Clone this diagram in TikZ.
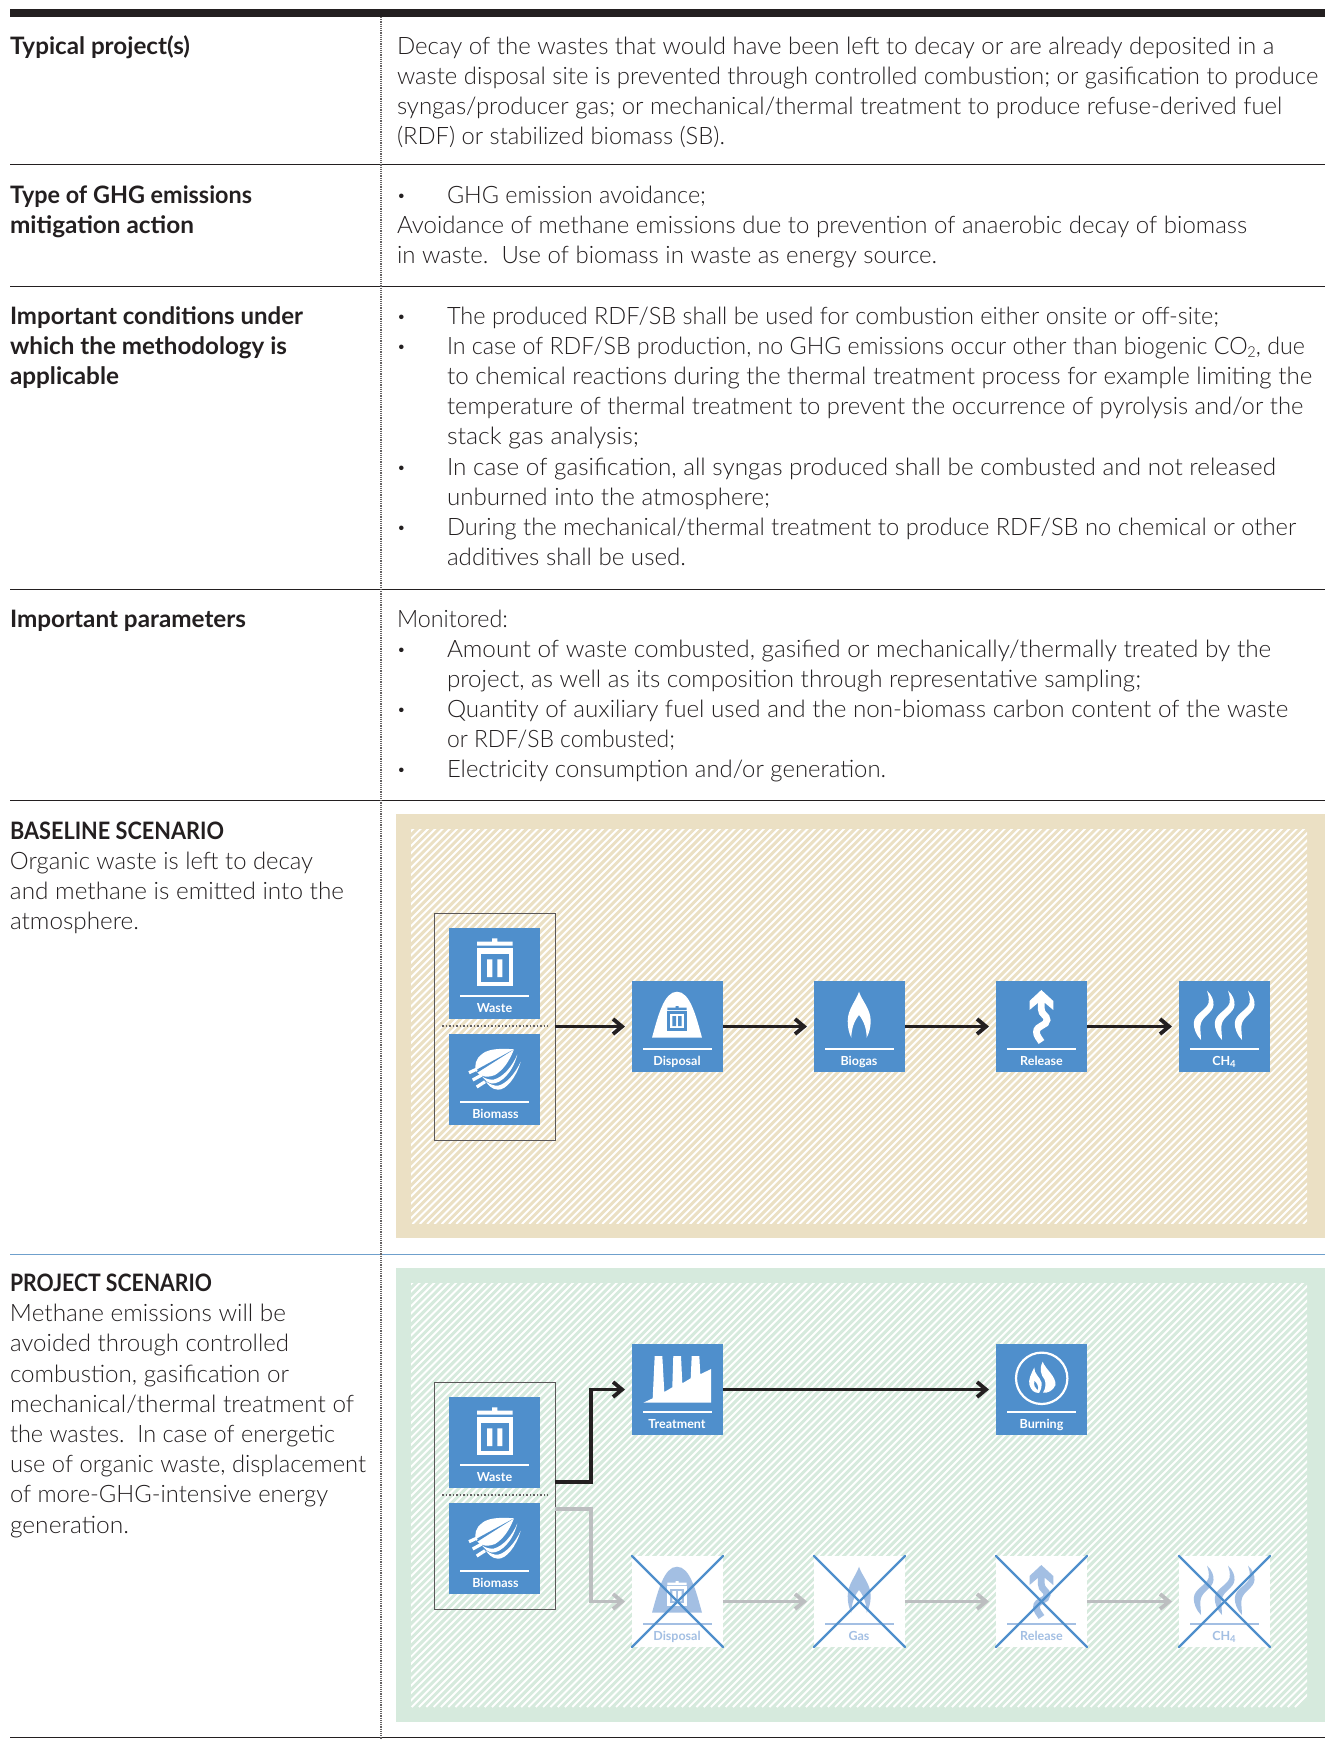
\documentclass[tikz,border=0pt]{standalone}
\usepackage{fontspec}
\usetikzlibrary{arrows.meta}
\setmainfont{Lato Light}[BoldFont={Lato Bold}]
\newfontfamily\lblfont{Lato Bold}
\definecolor{ink}{HTML}{231F20}
\definecolor{tanbg}{HTML}{EBE0C4}
\definecolor{greenbg}{HTML}{D6EADD}
\definecolor{iconblue}{HTML}{4F8FCC}
\definecolor{fadeblue}{HTML}{A3BFE3}
\definecolor{arrowgray}{HTML}{BCBEC0}
\definecolor{rowblue}{HTML}{6FA0CC}
\newcounter{txtn}
\newsavebox{\fitbox}
% set text #3 squeezed horizontally to the width #1-#2 (end x minus start x)
\newcommand{\fitto}[3]{\sbox{\fitbox}{#3}\pgfmathsetmacro{\fitr}{(#1-#2)/\wd\fitbox}\scalebox{\fitr}[1]{\usebox{\fitbox}}}
\newcommand{\tl}[4]{\stepcounter{txtn}\node[txt,name=t\thetxtn] at (#1,#2+1.5) {\fitto{#3}{#1}{#4}};}
\newcommand{\bl}[4]{\stepcounter{txtn}\node[txt,font=\fontsize{24}{24}\selectfont\bfseries,name=t\thetxtn] at (#1,#2+1.5) {\fitto{#3}{#1}{#4}};}
\newcommand{\dotl}[2]{\stepcounter{txtn}\node[txt,font=\fontsize{24}{24}\selectfont\bfseries,name=t\thetxtn] at (#1,#2+1.5) {·};}
% icons, drawn in a 91x91 box; colours fg and bg
\newcommand{\trashicon}{%
  \fill[fg] (28,13.7) rectangle (63.7,17.7) (43,10.3) rectangle (48.3,13.7);
  \fill[fg] (28,20.3) rectangle (63.7,58);
  \fill[bg] (32,26.3) rectangle (59.7,54);
  \fill[fg] (38,31.3) rectangle (43.3,49) (48.3,31.3) rectangle (53.3,49);}
\newcommand{\trashsmall}{%
  \fill[bg] (35.3,26.6) rectangle (54.7,29) (43.5,25) rectangle (46.5,26.6);
  \fill[bg] (35.3,30) rectangle (54.7,49.7);
  \fill[fg] (37.8,32.6) rectangle (52.2,47.2);
  \fill[bg] (40.3,35) rectangle (44,45) (46,35) rectangle (49.7,45);}
\newcommand{\moundicon}{%
  \fill[fg] (20,56.7) .. controls (26,35) and (32,10.7) .. (45,10.7) .. controls (58,10.7) and (64,35) .. (70,56.7) -- cycle;
  \trashsmall}
\newcommand{\flameicon}{%
  \fill[fg] (45,10.7) .. controls (48,20) and (56.7,28) .. (56.7,40) .. controls (56.7,47) and (55,52) .. (52.7,56.7) .. controls (52.5,48) and (50,40) .. (45,34) .. controls (40,40) and (37.5,48) .. (37.3,56.7) .. controls (35,52) and (33.7,47) .. (33.7,40) .. controls (33.7,28) and (42,20) .. (45,10.7) -- cycle;}
\newcommand{\releaseicon}{%
  \fill[fg] (45.3,9) -- (57.3,20) -- (57.3,29) -- (49,22) -- (41.8,22) -- (33.5,29) -- (33.5,20) -- cycle;
  \draw[fg,line width=6.8pt] (45.3,18) -- (45.3,28) .. controls (45.3,34) and (51,34) .. (51,39) .. controls (51,45) and (40.5,44) .. (40.5,51) .. controls (40.5,55) and (43,57) .. (45.5,61);}
\newcommand{\wavepart}{%
  \fill[fg] (28,9.7) .. controls (33,14) and (35,20) .. (34.5,24) .. controls (34,32) and (23,35) .. (21.5,44) .. controls (21,50) and (22,54) .. (22,59) .. controls (17,54) and (14.5,47) .. (14.8,42) .. controls (15,33) and (27.5,29) .. (29.5,22) .. controls (30.5,17) and (29,13) .. (28,9.7) -- cycle;}
\newcommand{\wavesicon}{\wavepart
  \begin{scope}[shift={(21,0)}]\wavepart\end{scope}
  \begin{scope}[shift={(41,0)}]\wavepart\end{scope}}
\newcommand{\leaficon}{%
  \fill[fg] (68.3,20.5) .. controls (64,38) and (52,50) .. (43,49.5) .. controls (39,49) and (36,46) .. (33,42.5) .. controls (37,45) and (41,46) .. (45,45.5) .. controls (54,43) and (63,33) .. (68.3,20.5) -- cycle;
  \fill[fg] (71.7,27.7) .. controls (67,44) and (57,56) .. (49,55.7) .. controls (43,55.5) and (39,51) .. (36.5,47) .. controls (40,50) and (45,52) .. (49,51.7) .. controls (57,50) and (66,40) .. (71.7,27.7) -- cycle;
  \fill[fg] (65,15.3) .. controls (55,14.5) and (40,14) .. (33,20) .. controls (27,24) and (25,32) .. (27,37) .. controls (31,43) and (38,44) .. (46,41) .. controls (54,36) and (60,28) .. (65,15.3) -- cycle;
  \fill[bg] (65,15.3) -- (27,36) -- (28.5,38.5) -- cycle;
  \draw[fg,line width=3.2pt] (20,38.7) -- (28,35);
  \draw[fg,line width=3.2pt] (23.7,46) -- (32.7,41);
  \draw[fg,line width=3.2pt] (27.7,53) -- (36,47.7);}
\newcommand{\factoryicon}{%
  \fill[fg] (11.3,58.7) -- (20.7,54.3) -- (22.7,12) -- (30.3,12) -- (32.3,48) -- (40.3,43.3) -- (41.3,12) -- (49,12) -- (50.3,39.3) -- (58.7,34.3) -- (59.7,12) -- (67.3,12) -- (68.3,30.3) -- (79,25) -- (79,58.7) -- cycle;}
\newcommand{\burnicon}{%
  \draw[fg,line width=2.2pt] (45.7,34.3) circle (25.7);
  \fill[fg] (46.7,17.7) .. controls (50,26) and (60,32) .. (59.5,41) .. controls (57,46.5) and (52,49.5) .. (47,48.5) .. controls (50,44) and (50,39) .. (48.5,35.5) .. controls (45,31) and (43,25) .. (46.7,17.7) -- cycle;
  \fill[fg] (38.3,23.5) .. controls (38,30) and (44,33) .. (45.5,38.5) .. controls (46,42) and (45,46) .. (43,49) .. controls (38,49) and (35,46) .. (33.5,41) .. controls (32,36) and (35,30) .. (38.3,23.5) -- cycle;
  \fill[bg] (38.5,37) .. controls (37.5,41) and (39,44) .. (41.5,46) .. controls (43,43) and (41,39) .. (38.5,37) -- cycle;}
% \iconbox{name}{left}{top}{icon}{label}{label x}
\newcommand{\iconbox}[6]{%
  \node[boxn,fill=bg] (#1) at (#2+45.5,#3+45.5) {};
  \begin{scope}[shift={(#2,#3)}]
    #4
    \fill[fg] (11,67) rectangle (80,69);
    \node[lbl,text=fg,name=#1lbl] at (#6,84.3) {#5};
  \end{scope}}
\newcommand{\solidcolours}{\colorlet{fg}{white}\colorlet{bg}{iconblue}}
\newcommand{\fadecolours}{\colorlet{fg}{fadeblue}\colorlet{bg}{white}}
\tikzset{
  txt/.style={anchor=base west,inner sep=0,outer sep=0,text=ink,font=\fontsize{24}{24}\selectfont},
  lbl/.style={anchor=base,inner sep=0,font=\lblfont\fontsize{12.5}{12.5}\selectfont},
  boxn/.style={draw=none,minimum size=91pt,inner sep=0,outer sep=0},
  grp/.style={draw=ink!75,line width=0.9pt,minimum width=121pt,minimum height=227pt,inner sep=0,outer sep=0},
  rowline/.style={ink,line width=1pt},
  hatchline/.style={white,line width=1.9pt},
  sepdots/.style={ink!70,line width=1.1pt,dash pattern=on 1.6pt off 1.9pt},
  flow/.style={ink,line width=3.6pt,-{Straight Barb[length=9pt,width=15pt,line width=3.8pt]}},
  flowgray/.style={arrowgray,line width=3.6pt,-{Straight Barb[length=9pt,width=15pt,line width=3.8pt]}},
  crossl/.style={iconblue,line width=2.4pt,line cap=round}
}
\begin{document}
\begin{tikzpicture}[x=1pt,y=-1pt]
\useasboundingbox (0,0) rectangle (1325,1739);
\fill[white] (0,0) rectangle (1325,1739);
% table rules
\fill[ink] (10,9) rectangle (1325,17);
\draw[rowline] (10,165) -- (1325,165);
\draw[rowline] (10,286.3) -- (1325,286.3);
\draw[rowline] (10,589) -- (1325,589);
\draw[rowline] (10,800.5) -- (1325,800.5);
\draw[rowblue,line width=1pt] (10,1254.5) -- (1325,1254.5);
\draw[rowline] (10,1737) -- (1325,1737);
\draw[ink!70,line width=1.2pt,densely dotted] (381,17) -- (381,1739);
% panels
\fill[tanbg] (396,814) rectangle (1325,1238);
\begin{scope}
  \clip (411,829) rectangle (1307,1223.5);
  \foreach \i in {0,...,180} {\draw[hatchline] ({11+\i*7.3},1224) -- ++(400,-400);}
\end{scope}
\fill[greenbg] (396,1268) rectangle (1325,1722);
\begin{scope}
  \clip (411,1283) rectangle (1307,1707);
  \foreach \i in {0,...,180} {\draw[hatchline] ({-19+\i*7.3},1707) -- ++(430,-430);}
\end{scope}
% left column
\bl{10}{53}{190}{Typical project(s)}
\bl{10}{202}{252}{Type of GHG emissions}
\bl{10}{232}{194}{mitigation action}
\bl{10}{323}{303}{Important conditions under}
\bl{10}{353}{287}{which the methodology is}
\bl{10}{383}{119}{applicable}
\bl{10}{626}{246}{Important parameters}
\bl{10}{838}{224}{BASELINE SCENARIO}
\tl{10}{868}{313}{Organic waste is left to decay}
\tl{10}{898}{344}{and methane is emitted into the}
\tl{10}{928}{139}{atmosphere.}
\bl{10}{1290}{212}{PROJECT SCENARIO}
\tl{10}{1320.2}{286}{Methane emissions will be}
\tl{10}{1350.4}{289}{avoided through controlled}
\tl{10}{1380.6}{289}{combustion, gasification or}
\tl{10}{1410.8}{354}{mechanical/thermal treatment of}
\tl{10}{1441}{335}{the wastes.\ \ In case of energetic}
\tl{10}{1471.2}{366}{use of organic waste, displacement}
\tl{10}{1501.4}{328}{of more-GHG-intensive energy}
\tl{10}{1531.6}{129}{generation.}
% right column
\tl{397}{53}{1274}{Decay of the wastes that would have been left to decay or are already deposited in a}
\tl{397}{83}{1318}{waste disposal site is prevented through controlled combustion; or gasification to produce}
\tl{397}{113}{1282}{syngas/producer gas; or mechanical/thermal treatment to produce refuse-derived fuel}
\tl{397}{143}{725}{(RDF) or stabilized biomass (SB).}
\dotl{398}{202}
\tl{447}{202}{706}{GHG emission avoidance;}
\tl{397}{232}{1247}{Avoidance of methane emissions due to prevention of anaerobic decay of biomass}
\tl{397}{262}{937}{in waste.\ \ Use of biomass in waste as energy source.}
\dotl{398}{323}
\tl{447}{323}{1219}{The produced RDF/SB shall be used for combustion either onsite or off-site;}
\dotl{398}{353.1}
\tl{447}{353.1}{1305}{In case of RDF/SB production, no GHG emissions occur other than biogenic CO\raisebox{-3pt}{\fontsize{15}{15}\selectfont 2}, due}
\tl{447}{383.2}{1312}{to chemical reactions during the thermal treatment process for example limiting the}
\tl{447}{413.3}{1303}{temperature of thermal treatment to prevent the occurrence of pyrolysis and/or the}
\tl{447}{443.4}{639}{stack gas analysis;}
\dotl{398}{473.5}
\tl{447}{473.5}{1276}{In case of gasification, all syngas produced shall be combusted and not released}
\tl{447}{503.6}{770}{unburned into the atmosphere;}
\dotl{398}{533.7}
\tl{447}{533.7}{1296}{During the mechanical/thermal treatment to produce RDF/SB no chemical or other}
\tl{447}{563.8}{686}{additives shall be used.}
\tl{397}{626}{508}{Monitored:}
\dotl{398}{656}
\tl{447}{656}{1271}{Amount of waste combusted, gasified or mechanically/thermally treated by the}
\tl{447}{686}{1141}{project, as well as its composition through representative sampling;}
\dotl{398}{716}
\tl{447}{716}{1288}{Quantity of auxiliary fuel used and the non-biomass carbon content of the waste}
\tl{447}{746}{675}{or RDF/SB combusted;}
\dotl{398}{776}
\tl{447}{776}{886}{Electricity consumption and/or generation.}
% baseline diagram
\solidcolours
\node[grp] (bgroup) at (494.5,1026.5) {};
\draw[sepdots] (442,1026) -- (548,1026);
\iconbox{bwaste}{449}{928}{\trashicon}{Waste}{45.5}
\iconbox{bbiomass}{449}{1034}{\leaficon}{Biomass}{46.5}
\iconbox{bdisposal}{632}{981}{\moundicon}{Disposal}{45}
\iconbox{bbiogas}{814}{981}{\flameicon}{Biogas}{45}
\iconbox{brelease}{996}{981}{\releaseicon}{Release}{45.5}
\iconbox{bch}{1179}{981}{\wavesicon}{CH\raisebox{-2pt}{\fontsize{9.5}{9.5}\selectfont 4}}{45}
\draw[flow,shorten >=7pt] (bgroup.east) -- (bdisposal.west);
\draw[flow,shorten >=7pt] (bdisposal.east) -- (bbiogas.west);
\draw[flow,shorten >=7pt] (bbiogas.east) -- (brelease.west);
\draw[flow,shorten >=7pt] (brelease.east) -- (bch.west);
% project diagram
\node[grp] (pgroup) at (494.5,1495.5) {};
\draw[sepdots] (442,1495) -- (548,1495);
\iconbox{pwaste}{449}{1397}{\trashicon}{Waste}{45.5}
\iconbox{pbiomass}{449}{1503}{\leaficon}{Biomass}{46.5}
\iconbox{ptreat}{632}{1344}{\factoryicon}{Treatment}{45}
\iconbox{pburn}{996}{1344}{\burnicon}{Burning}{45.5}
\fadecolours
\iconbox{pdisposal}{632}{1556}{\moundicon}{Disposal}{45}
\iconbox{pgas}{814}{1556}{\flameicon}{Gas}{45}
\iconbox{prelease}{996}{1556}{\releaseicon}{Release}{45.5}
\iconbox{pch}{1179}{1556}{\wavesicon}{CH\raisebox{-2pt}{\fontsize{9.5}{9.5}\selectfont 4}}{45}
\foreach \n in {pdisposal,pgas,prelease,pch} {
  \draw[crossl] (\n.north west) -- (\n.south east);
  \draw[crossl] (\n.north east) -- (\n.south west);
}
\coordinate (pout1) at (555,1482);
\coordinate (pjoin1) at (591,1482);
\coordinate (pout2) at (555,1509);
\coordinate (pjoin2) at (591,1509);
\draw[flow,shorten >=7pt] (pout1) -- (pjoin1) |- (ptreat.west);
\draw[flow,shorten >=7pt] (ptreat.east) -- (pburn.west);
\draw[flowgray,shorten >=7pt] (pout2) -- (pjoin2) |- (pdisposal.west);
\draw[flowgray,shorten >=7pt] (pdisposal.east) -- (pgas.west);
\draw[flowgray,shorten >=7pt] (pgas.east) -- (prelease.west);
\draw[flowgray,shorten >=7pt] (prelease.east) -- (pch.west);
\end{tikzpicture}
\end{document}
